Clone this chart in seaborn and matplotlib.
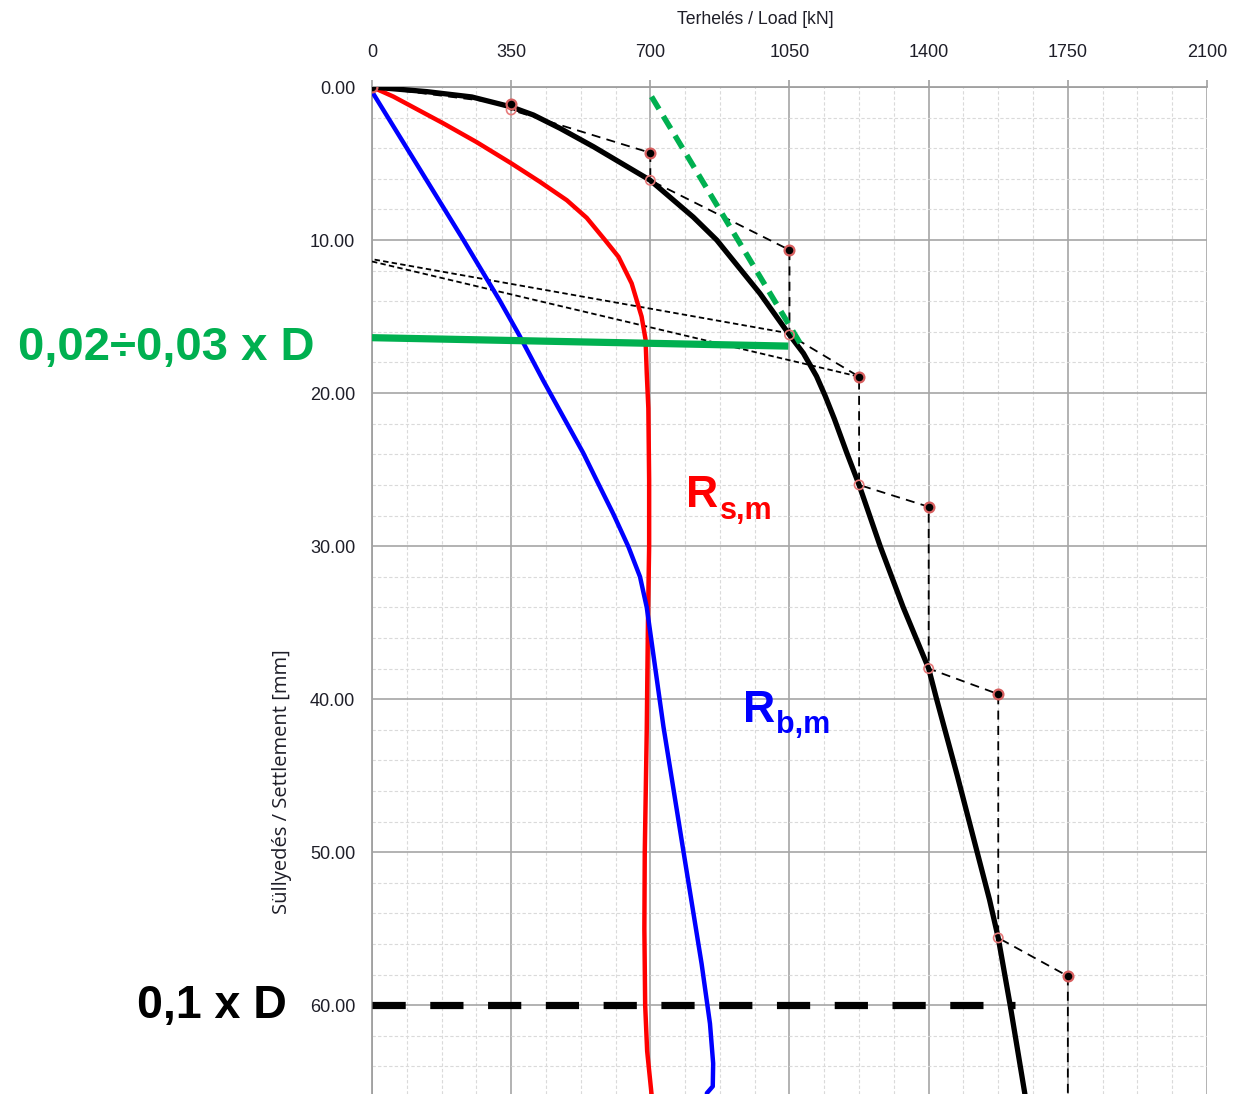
import numpy as np
import pandas as pd
import matplotlib
matplotlib.use("Agg")
import matplotlib.pyplot as plt
from matplotlib.ticker import MultipleLocator, FixedLocator, FormatStrFormatter
import seaborn as sns

# ---------------- data ----------------
# measured load-settlement path (load steps with creep)
path_load = [0, 350, 350, 700, 700, 1050, 1050, 1225, 1225, 1400, 1400, 1575, 1575, 1750, 1750]
path_settl = [0, 1.13, 1.5, 4.3, 6.1, 10.65, 16.2, 18.93, 26.0, 27.43, 38.0, 39.67, 55.6, 58.1, 67.0]
# points at start of each hold (bold markers)
main_pt_load = [0, 350, 700, 1050, 1225, 1400, 1575, 1750]
main_pt_settl = [0, 1.13, 4.3, 10.65, 18.93, 27.43, 39.67, 58.1]
# points at end of each hold (faint markers)
end_pt_load = [350, 700, 1050, 1225, 1400, 1575]
end_pt_settl = [1.5, 6.1, 16.2, 26.0, 38.0, 55.6]
# unloading / reloading lines
unload_load = [1050, 0]
unload_settl = [16.1, 11.25]
reload_load = [0, 1225]
reload_settl = [11.4, 18.93]

# fitted total resistance curve
fit_load = [0, 137, 251, 350, 406, 473, 557, 700, 808, 867, 976, 1050, 1085, 1118, 1140, 1163, 1194, 1225,
            1278, 1336, 1400, 1420, 1472, 1522, 1553, 1575, 1605, 1642]
fit_settl = [0, 0.3, 0.65, 1.3, 1.83, 2.7, 3.9, 6.1, 8.5, 10.0, 13.5, 16.2, 17.4, 18.9, 20.2, 21.7, 23.9, 26.0,
             30.0, 34.0, 38.0, 40.0, 45.0, 50.0, 53.1, 55.6, 60.0, 65.8]

# shaft resistance R_s,m
rs_load = [0, 54, 179, 263, 351, 422, 490, 540, 586, 620, 653, 678, 688, 691, 695, 697, 697, 694, 691, 686, 685, 687, 692, 703]
rs_settl = [0, 0.63, 2.37, 3.6, 5.0, 6.19, 7.4, 8.55, 10.0, 11.1, 12.83, 15.0, 16.5, 18.7, 21.0, 25.7, 30.0, 35.0, 42.0, 50.0, 55.0, 60.0, 63.0, 65.8]

# base resistance R_b,m
rb_load = [0, 230, 320, 370, 431, 531, 565, 607, 645, 674, 691, 733, 783, 829, 850, 858, 857, 842]
rb_settl = [0.3, 10.0, 13.9, 16.2, 19.2, 23.9, 25.7, 27.9, 30.05, 32.0, 34.0, 41.8, 49.9, 57.3, 61.2, 63.8, 65.3, 65.75]

# tangent (green dashed) and limit lines
tan_load = [703, 1085]
tan_settl = [0.63, 17.1]
lim1_load = [0, 1047]
lim1_settl = [16.38, 16.93]
lim2_load = [0, 1617]
lim2_settl = [60.0, 60.0]

x_ticks = [0, 350, 700, 1050, 1400, 1750, 2100]
y_ticks = [0, 10, 20, 30, 40, 50, 60]

# ---------------- style ----------------
sns.set_style("white")
plt.rcParams["font.family"] = ["Liberation Sans Narrow", "Liberation Sans", "DejaVu Sans"]

W, H = 1247, 1094
fig = plt.figure(figsize=(W / 100, H / 100), dpi=100)
ax_left, ax_right, ax_top = 372 / W, 1207 / W, 87 / H
ax = fig.add_axes([ax_left, 0.0, ax_right - ax_left, 1 - ax_top])

RED, BLUE, GREEN = "#ff0000", "#0000ff", "#00b050"

def line(xs, ys, **kw):
    df = pd.DataFrame({"x": xs, "y": ys})
    sns.lineplot(data=df, x="x", y="y", sort=False, estimator=None, ax=ax, **kw)

# measured path
line(path_load, path_settl, color="black", lw=1.3, linestyle=(0, (5, 3.5)), zorder=3)
line(unload_load, unload_settl, color="black", lw=1.3, linestyle=(0, (3, 1.8)), zorder=3)
line(reload_load, reload_settl, color="black", lw=1.3, linestyle=(0, (3, 1.8)), zorder=3)

# resistance curves
line(rs_load, rs_settl, color=RED, lw=3.2, zorder=4, solid_joinstyle="round")
line(rb_load, rb_settl, color=BLUE, lw=3.2, zorder=4, solid_joinstyle="round")
line(fit_load, fit_settl, color="black", lw=3.8, zorder=5, solid_joinstyle="round")

# limit lines
line(lim1_load, lim1_settl, color=GREEN, lw=5.2, zorder=6, solid_capstyle="butt")
line(tan_load, tan_settl, color=GREEN, lw=4.0, linestyle=(0, (2.6, 1.5)), zorder=6)
line(lim2_load, lim2_settl, color="black", lw=5.2, linestyle=(0, (4.6, 3.4)), zorder=6)

# markers
sns.scatterplot(x=end_pt_load, y=end_pt_settl, ax=ax, s=45, facecolor="none",
                edgecolor="#e77a7a", linewidth=1.2, zorder=7, legend=False)
sns.scatterplot(x=main_pt_load, y=main_pt_settl, ax=ax, s=50, color="black",
                edgecolor="#d86060", linewidth=1.6, zorder=7, legend=False)

# ---------------- axes ----------------
ax.set_xlim(0, 2100)
ax.set_ylim(65.8, 0)
ax.xaxis.set_major_locator(FixedLocator(x_ticks))
ax.yaxis.set_major_locator(FixedLocator(y_ticks))
ax.xaxis.set_minor_locator(MultipleLocator(87.5))
ax.yaxis.set_minor_locator(MultipleLocator(2))
ax.yaxis.set_major_formatter(FormatStrFormatter("%.2f"))
ax.xaxis.tick_top()
ax.tick_params(axis="x", which="major", direction="out", length=5, width=1.2,
               color="#a0a0a0", pad=14, labelsize=13, labelcolor="#1e1e28")
ax.tick_params(axis="y", which="major", direction="out", length=5, width=1.2,
               color="#a0a0a0", pad=7, labelsize=13, labelcolor="#1e1e28")
ax.tick_params(which="minor", length=0)
ax.grid(which="major", color="#a6a6a6", lw=1.2, zorder=0)
ax.grid(which="minor", color="#dadada", lw=0.8, linestyle=(0, (3, 2)), zorder=0)
ax.set_axisbelow(True)
for s in ["bottom", "right"]:
    ax.spines[s].set_visible(False)
for s in ["top", "left"]:
    ax.spines[s].set_color("#a0a0a0")
    ax.spines[s].set_linewidth(1.3)
ax.set_xlabel("")
ax.set_ylabel("")

fig.text(755 / W, 1 - 19 / H, "Terhelés / Load [kN]", ha="center", va="center",
         fontsize=12.7, color="#1e1e28")
fig.text(282 / W, 1 - 782 / H, "Süllyedés / Settlement [mm]", ha="center", va="center",
         rotation=90, fontsize=14.5, color="#1e1e28", family=["Open Sans", "DejaVu Sans"])

# ---------------- annotations ----------------
bold = dict(fontweight="bold", family=["Liberation Sans", "DejaVu Sans"])
fig.text(18 / W, 1 - 360 / H, "0,02÷0,03 x D", ha="left", va="baseline",
         fontsize=34, color=GREEN, **bold)
fig.text(137 / W, 1 - 1018 / H, "0,1 x D", ha="left", va="baseline",
         fontsize=33.5, color="black", **bold)

ax.text(789, 27.43, "R", ha="left", va="baseline", fontsize=32, color=RED, zorder=8, **bold)
ax.text(875, 28.2, "s,m", ha="left", va="baseline", fontsize=22, color=RED, zorder=8, **bold)
ax.text(932, 41.5, "R", ha="left", va="baseline", fontsize=32, color=BLUE, zorder=8, **bold)
ax.text(1016, 42.2, "b,m", ha="left", va="baseline", fontsize=22, color=BLUE, zorder=8, **bold)

fig.savefig("out.png", dpi=100)
